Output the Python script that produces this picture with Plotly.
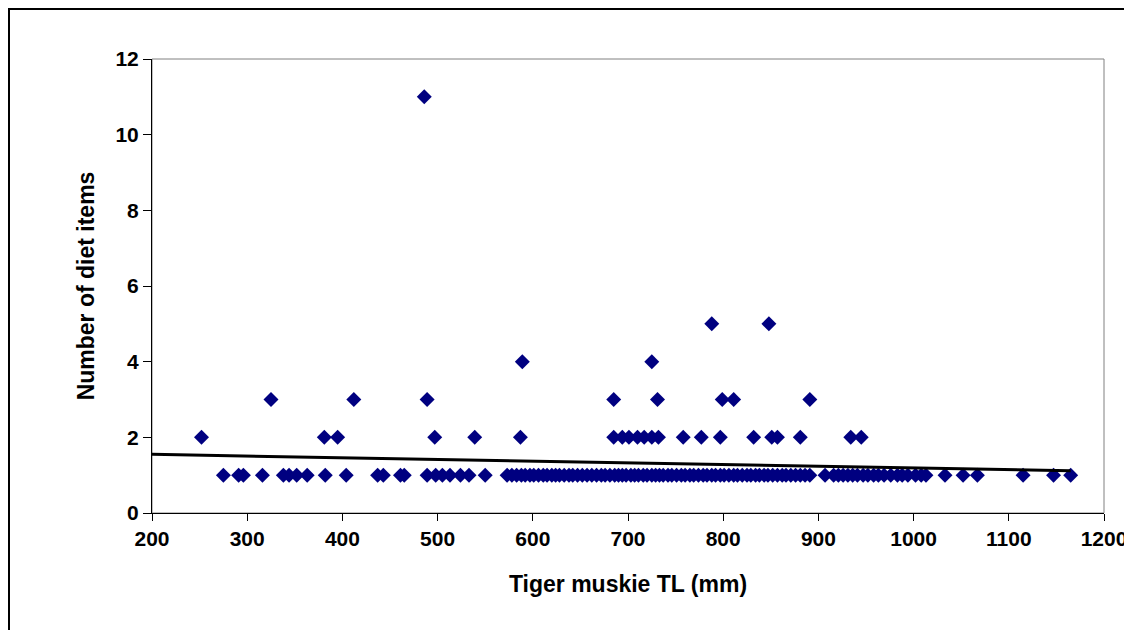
import plotly.graph_objects as go

# Tiger muskie total length (mm) grouped by number of diet items
tl_items_1 = [275, 291, 296, 316, 338, 344, 352, 363, 382, 404, 437, 443, 461, 465,
              489, 498, 505, 513, 524, 533, 550,
              573, 578, 583, 588, 592, 597, 601, 606, 611, 615, 620, 624, 628, 633,
              638, 642, 647, 652, 657, 662, 667, 672, 676, 681, 686, 690, 694, 698,
              703, 707, 711, 716, 720, 725, 729, 733, 737, 742, 746, 751, 756, 760,
              765, 769, 774, 779, 783, 788, 792, 797, 801, 806, 811, 815, 820, 825,
              829, 834, 838, 843, 847, 852, 857, 862, 866, 871, 876, 881, 886, 891,
              907, 916, 921, 926, 931, 936, 941, 947, 952, 958, 963, 969, 976, 983,
              988, 994, 1002, 1008, 1013, 1033, 1052, 1067, 1115, 1147, 1165]
tl_items_2 = [252, 381, 395, 497, 539, 587, 685, 694, 701, 710, 717, 725, 732, 758,
              777, 797, 832, 851, 857, 881, 934, 945]
tl_items_3 = [325, 412, 489, 685, 731, 799, 811, 891]
tl_items_4 = [589, 725]
tl_items_5 = [788, 848]
tl_items_11 = [486]

# Linear trend line endpoints
trend_tl = [200, 1165]
trend_items = [1.55, 1.12]

x_ticks = [200, 300, 400, 500, 600, 700, 800, 900, 1000, 1100, 1200]
y_ticks = [0, 2, 4, 6, 8, 10, 12]

groups = [(1, tl_items_1), (2, tl_items_2), (3, tl_items_3), (4, tl_items_4),
          (5, tl_items_5), (11, tl_items_11)]
tl_mm = []
diet_items = []
for n, vals in groups:
    tl_mm += vals
    diet_items += [n] * len(vals)

FONT = "Liberation Sans, Arial, sans-serif"

fig = go.Figure()
fig.add_trace(go.Scatter(
    x=tl_mm, y=diet_items, mode="markers",
    marker=dict(symbol="diamond", size=11.5, color="#000080", line=dict(width=0)),
    showlegend=False, hoverinfo="x+y"))
fig.add_trace(go.Scatter(
    x=trend_tl, y=trend_items, mode="lines",
    line=dict(color="black", width=3), showlegend=False, hoverinfo="skip"))

# page body has an 8px margin, so the figure starts at (8, 8)
W, H = 1124, 622
L, R, T, B = 144, 28, 51, 117
pw, ph = W - L - R, H - T - B

def px_to_paper_x(px):
    return (px - L) / pw

def px_to_paper_y(py):
    return (H - B - py) / ph

fig.update_layout(
    width=W, height=H,
    margin=dict(l=L, r=R, t=T, b=B, pad=0),
    paper_bgcolor="white", plot_bgcolor="white",
    font=dict(family=FONT, color="black"),
    xaxis=dict(
        range=[200, 1200], tickvals=x_ticks, ticktext=[str(v) for v in x_ticks],
        showgrid=False, zeroline=False, showline=True, linecolor="black", linewidth=1,
        ticks="outside", ticklen=7, tickcolor="black", tickwidth=1,
        tickfont=dict(family=FONT, size=21, weight="bold"),
        title=dict(text="Tiger muskie TL (mm)", standoff=26,
                   font=dict(family=FONT, size=23, weight="bold")),
        automargin=False,
    ),
    yaxis=dict(
        range=[0, 12], tickvals=y_ticks, ticktext=[str(v) for v in y_ticks],
        showgrid=False, zeroline=False, showline=True, linecolor="black", linewidth=1,
        ticks="outside", ticklen=8, tickcolor="black", tickwidth=1,
        tickfont=dict(family=FONT, size=21, weight="bold"),
        title=dict(text="Number of diet items", standoff=14,
                   font=dict(family=FONT, size=23, weight="bold")),
        automargin=False,
    ),
    shapes=[
        # plot area border (gray)
        dict(type="rect", xref="paper", yref="paper", x0=0, x1=1, y0=0, y1=1,
             line=dict(color="#808080", width=1), layer="below"),
        # outer chart frame
        dict(type="rect", xref="paper", yref="paper",
             x0=px_to_paper_x(1), x1=px_to_paper_x(1140),
             y0=px_to_paper_y(650), y1=px_to_paper_y(1),
             line=dict(color="black", width=2), layer="above"),
    ],
)

fig.write_html("out.html")
